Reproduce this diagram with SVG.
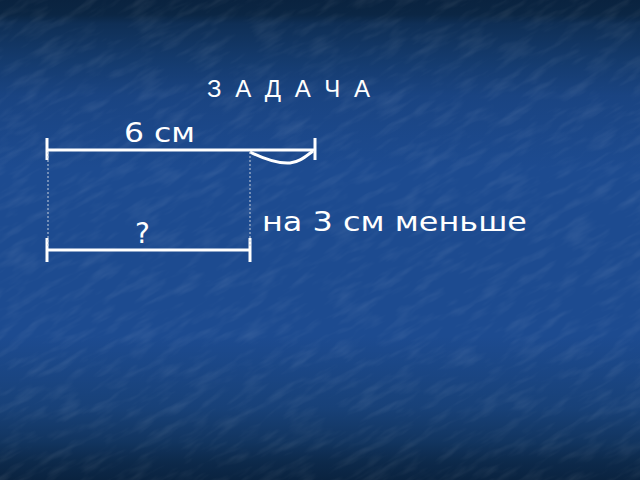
<svg xmlns="http://www.w3.org/2000/svg" width="640" height="480" viewBox="0 0 640 480">
<defs>
<linearGradient id="bg" x1="0" y1="0" x2="0" y2="1">
<stop offset="0" stop-color="#0a2340"/>
<stop offset="0.03" stop-color="#0b2644"/>
<stop offset="0.05" stop-color="#0f2f56"/>
<stop offset="0.12" stop-color="#143a6c"/>
<stop offset="0.2" stop-color="#1a4482"/>
<stop offset="0.35" stop-color="#1d4b90"/>
<stop offset="0.7" stop-color="#1d4b90"/>
<stop offset="0.85" stop-color="#184178"/>
<stop offset="0.92" stop-color="#123560"/>
<stop offset="0.96" stop-color="#0d2a4c"/>
<stop offset="1" stop-color="#0a2340"/>
</linearGradient>
<filter id="tex" x="0" y="0" width="1" height="1">
<feTurbulence type="fractalNoise" baseFrequency="0.03 0.12" numOctaves="3" seed="4" result="n"/>
<feColorMatrix in="n" type="matrix" values="0 0 0 0 1  0 0 0 0 1  0 0 0 0 1  0 0 0 1.2 -0.55" result="w"/>
<feComposite in="w" in2="SourceGraphic" operator="in"/>
</filter>
<style>
.t{fill:#ffffff;font-family:"DejaVu Sans","Noto Sans",sans-serif}
.h{fill:#ffffff;font-family:"Liberation Sans",Arial,sans-serif}
.ln{stroke:#ffffff;stroke-width:3;fill:none}
.dot{stroke:#c8d0dc;stroke-width:1;stroke-dasharray:2 2;fill:none}
</style>
</defs>
<rect width="640" height="480" fill="url(#bg)"/>
<g transform="rotate(-30 320 240)" opacity="0.14">
<rect x="-200" y="-200" width="1040" height="880" fill="#ffffff" filter="url(#tex)"/>
</g>
<text class="h" x="207" y="97" font-size="24" textLength="163" lengthAdjust="spacing">З А Д А Ч А</text>
<g id="top-segment">
<line class="ln" x1="47" y1="150" x2="315" y2="150"/>
<line class="ln" x1="47" y1="138" x2="47" y2="160"/>
<line class="ln" x1="315" y1="138" x2="315" y2="160"/>
<path class="ln" stroke-width="2" d="M250 152 C262 158 276 164 290 163 C300 162 306 156 313 151"/>
<text class="t" x="124" y="142" font-size="27" textLength="71" lengthAdjust="spacingAndGlyphs">6 см</text>
</g>
<g id="bottom-segment">
<line class="ln" x1="47" y1="250" x2="250" y2="250"/>
<line class="ln" x1="47" y1="238" x2="47" y2="262"/>
<line class="ln" x1="250" y1="238" x2="250" y2="262"/>
<text class="t" x="135" y="243" font-size="28">?</text>
</g>
<g id="connectors">
<line class="dot" x1="48" y1="152" x2="48" y2="248"/>
<line class="dot" x1="250" y1="152" x2="250" y2="248"/>
</g>
<text class="t" x="262" y="231" font-size="27" textLength="265" lengthAdjust="spacingAndGlyphs">на 3 см меньше</text>
</svg>
